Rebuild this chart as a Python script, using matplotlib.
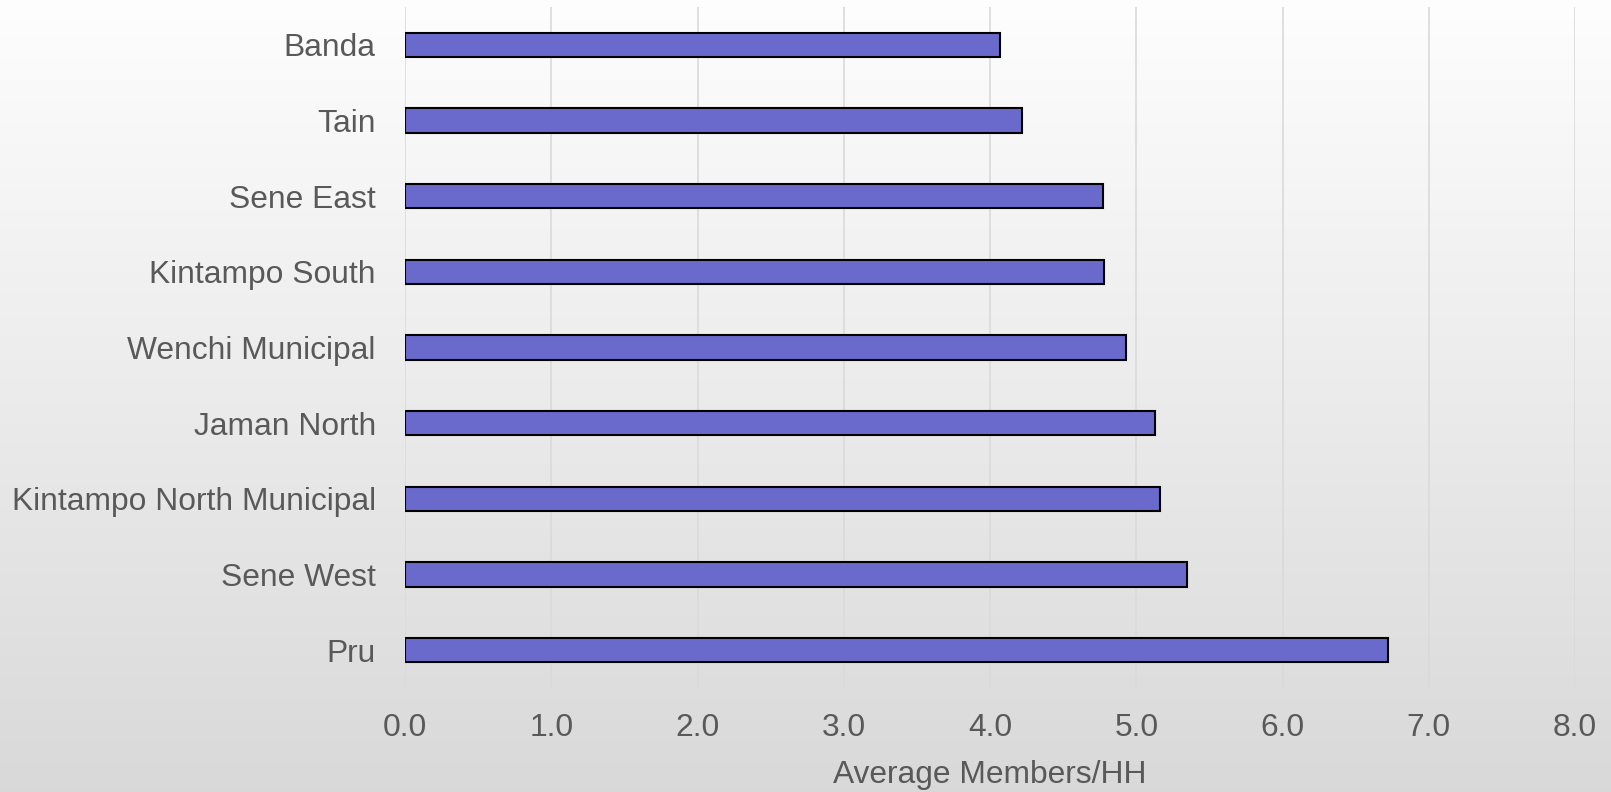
import numpy as np
import matplotlib.pyplot as plt

plt.rcParams['font.family'] = ['Liberation Sans', 'DejaVu Sans']

# Average household size by district
districts = ["Banda", "Tain", "Sene East", "Kintampo South", "Wenchi Municipal",
             "Jaman North", "Kintampo North Municipal", "Sene West", "Pru"]
avg_members = [4.07, 4.22, 4.77, 4.78, 4.93, 5.13, 5.16, 5.35, 6.72]
xticks = [0, 1, 2, 3, 4, 5, 6, 7, 8]

text_color = "#595959"

fig = plt.figure(figsize=(16.11, 7.92), dpi=100)

# vertical gray gradient behind everything
bg = fig.add_axes([0, 0, 1, 1], zorder=-10)
grad = np.linspace(0.995, 0.85, 256).reshape(-1, 1)
bg.imshow(np.dstack([grad, grad, grad]), aspect="auto", extent=[0, 1, 0, 1])
bg.axis("off")

ax = fig.add_axes([0.2514, 0.1313, 0.7263, 0.8599])
ax.patch.set_alpha(0)

y = np.arange(len(districts))
ax.barh(y, avg_members, height=0.32, color="#6a6acd", edgecolor="black",
        linewidth=1.5, zorder=3)

ax.set_ylim(len(districts) - 0.5, -0.5)
ax.set_xlim(0, 8)
ax.set_yticks(y)
ax.set_yticklabels(districts)
ax.set_xticks(xticks)
ax.set_xticklabels([f"{t:.1f}" for t in xticks])

ax.grid(axis="x", color="#dadada", linewidth=1.2, zorder=0)
ax.tick_params(axis="both", length=0, labelsize=22.9, labelcolor=text_color)
ax.tick_params(axis="x", pad=18)
ax.tick_params(axis="y", pad=21)
for s in ax.spines.values():
    s.set_visible(False)

ax.set_xlabel("Average Members/HH", fontsize=22.9, color=text_color, labelpad=12)

fig.savefig("out.png", dpi=100)
